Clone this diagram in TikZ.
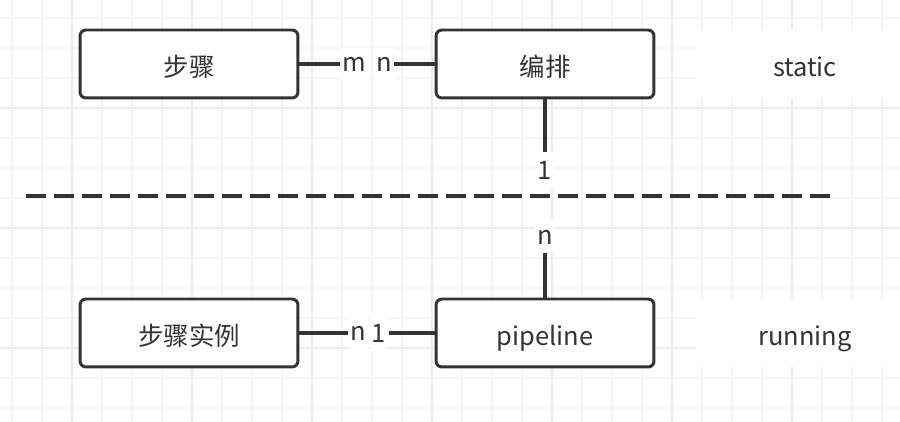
\documentclass[tikz,border=0pt]{standalone}
\usepackage{fontspec}
\setmainfont{Noto Sans CJK SC}
\definecolor{erdark}{RGB}{51,51,51}
\definecolor{gridminor}{RGB}{245,245,245}
\definecolor{gridmajor}{RGB}{235,235,235}

\begin{document}
\begin{tikzpicture}[x=0.02cm, y=-0.02cm,
  entity/.style={draw=erdark, line width=1.7pt, fill=white, rounded corners=3.4pt,
    minimum width=4.36cm, minimum height=1.36cm, text=erdark,
    text height=14pt, text depth=0pt,
    font=\fontsize{14.5}{17}\selectfont},
  phase/.style={fill=white, minimum width=4.36cm, minimum height=1.36cm, text=erdark,
    text height=14pt, text depth=0pt,
    font=\fontsize{14.5}{17}\selectfont},
  card/.style={fill=white, inner xsep=1.2pt, inner ysep=5pt, text=erdark,
    font=\fontsize{14.5}{17}\selectfont},
  link/.style={erdark, line width=1.8pt}]

\useasboundingbox (0,0) rectangle (900,422);
\fill[white] (0,0) rectangle (900,422);

% grid
\foreach \x in {12,42,...,882} \draw[gridminor, line width=0.6pt] (\x,0) -- (\x,422);
\foreach \y in {18,48,...,408} \draw[gridminor, line width=0.6pt] (0,\y) -- (900,\y);
\foreach \x in {72,192,...,792} \draw[gridmajor, line width=0.6pt] (\x,0) -- (\x,422);
\foreach \y in {108,228,348} \draw[gridmajor, line width=0.6pt] (0,\y) -- (900,\y);

% static part
\node[entity] (bz) at (189,64) {步骤};
\node[entity] (bp) at (545,64) {编排};
\node[phase] (static) at (805,64) {static};

% running part
\node[entity] (sl) at (189,333) {步骤实例};
\node[entity] (pl) at (545,333) {pipeline};
\node[phase] (running) at (805,333) {running};

% cardinalities
\node[card] (m) at (354,64) {m};
\node[card] (n) at (384,64) {n};
\node[card] (one) at (545,170) {1};
\node[card] (nn) at (545,237) {n};
\node[card] (n2) at (358,333) {n};
\node[card] (one2) at (379,333) {1};

\draw[link] (bz.east) -- (m.west);
\draw[link] (n.east) -- (bp.west);
\draw[link] (bp.south) -- (one.north);
\draw[link] (nn.south) -- (pl.north);
\draw[link] (sl.east) -- (n2.west);
\draw[link] (one2.east) -- (pl.west);

% separator
\coordinate (sepL) at (26,196);
\coordinate (sepR) at (830,196);
\draw[erdark, line width=2.2pt, dash pattern=on 0.4cm off 0.16cm] (sepL) -- (sepR);

\end{tikzpicture}
\end{document}
